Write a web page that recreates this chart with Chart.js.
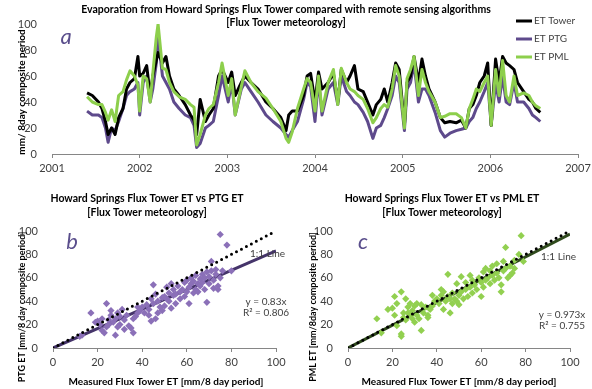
<!DOCTYPE html>
<html>
<head>
<meta charset="utf-8">
<script src="https://cdn.jsdelivr.net/npm/chart.js"></script>
<style>
  body { margin: 0; background: #fff; width: 592px; height: 389px; position: relative; overflow: hidden; }
  canvas { position: absolute; }
</style>
</head>
<body>
<canvas id="series" width="592" height="182" style="left:0;top:0"></canvas>
<canvas id="ptg" width="296" height="209" style="left:0;top:180px"></canvas>
<canvas id="pml" width="296" height="209" style="left:296px;top:180px"></canvas>
<script>
// 8-day composites, decimal years
const years = [2001.40, 2001.46, 2001.53, 2001.57, 2001.61, 2001.64, 2001.68, 2001.72, 2001.76, 2001.81,
  2001.85, 2001.89, 2001.94, 2001.98, 2002.00, 2002.04, 2002.08, 2002.12, 2002.15, 2002.19,
  2002.21, 2002.26, 2002.30, 2002.34, 2002.39, 2002.45, 2002.52, 2002.58, 2002.62, 2002.65,
  2002.69, 2002.75, 2002.79, 2002.84, 2002.90, 2002.94, 2003.01, 2003.05, 2003.09, 2003.16,
  2003.20, 2003.27, 2003.35, 2003.44, 2003.52, 2003.61, 2003.67, 2003.70, 2003.74, 2003.80,
  2003.87, 2003.91, 2003.95, 2004.00, 2004.04, 2004.08, 2004.15, 2004.21, 2004.26, 2004.30,
  2004.36, 2004.40, 2004.45, 2004.49, 2004.55, 2004.60, 2004.66, 2004.70, 2004.75, 2004.79,
  2004.83, 2004.88, 2004.92, 2004.96, 2005.02, 2005.05, 2005.09, 2005.13, 2005.18, 2005.22,
  2005.26, 2005.30, 2005.37, 2005.43, 2005.48, 2005.54, 2005.61, 2005.67, 2005.72, 2005.76,
  2005.80, 2005.84, 2005.88, 2005.93, 2005.97, 2006.01, 2006.06, 2006.10, 2006.14, 2006.18,
  2006.22, 2006.27, 2006.31, 2006.38, 2006.44, 2006.48, 2006.52, 2006.57];
const etTower = [47, 45, 40, 35, 25, 15, 20, 15, 28, 35,
  50, 55, 58, 75, 60, 62, 68, 45, 60, 72,
  78, 70, 75, 60, 50, 45, 38, 30, 26, 15,
  42, 25, 30, 35, 60, 65, 55, 63, 45, 55,
  60, 55, 50, 40, 35, 28, 18, 30, 33, 33,
  45, 60, 62, 40, 63, 50, 55, 62, 40, 65,
  55, 60, 68, 50, 48, 40, 30, 38, 42, 50,
  40, 55, 70, 65, 22, 55, 60, 75, 55, 73,
  60, 50, 40, 28, 24, 25, 24, 26, 20, 35,
  38, 45, 55, 60, 70, 22, 73, 55, 75, 70,
  68, 65, 55, 48, 42, 40, 35, 32];
const etPTG = [33, 30, 30, 28, 20, 9, 20, 18, 25, 35,
  45, 48, 50, 55, 30, 55, 60, 40, 50, 70,
  90, 60, 55, 50, 40, 35, 30, 28, 22, 5,
  8, 20, 22, 25, 45, 60, 40, 55, 30, 50,
  55, 48, 40, 30, 25, 20, 15, 13, 18, 25,
  42, 55, 52, 25, 58, 30, 50, 55, 38, 60,
  48, 45, 40, 38, 32, 25, 12, 20, 22, 28,
  35, 45, 60, 55, 18, 50, 55, 70, 40, 50,
  50, 45, 32, 18, 13, 16, 18, 19, 20, 25,
  28, 35, 40, 48, 55, 22, 55, 40, 60, 40,
  38, 55, 40, 40, 35, 30, 28, 25];
const etPML = [44, 40, 38, 38, 32, 26, 34, 25, 45, 48,
  57, 64, 60, 53, 33, 60, 58, 40, 62, 90,
  100, 66, 65, 55, 48, 44, 42, 38, 36, 7,
  15, 30, 35, 38, 55, 70, 45, 58, 30, 52,
  64, 55, 48, 43, 35, 25, 12, 9, 17, 35,
  50, 58, 55, 33, 60, 33, 55, 65, 38, 66,
  55, 50, 48, 45, 42, 35, 24, 28, 35, 38,
  36, 50, 68, 60, 20, 58, 65, 75, 45, 65,
  55, 48, 40, 28, 29, 31, 31, 28, 20, 35,
  42, 50, 48, 55, 60, 22, 65, 45, 72, 45,
  40, 60, 45, 47, 45, 40, 37, 35];
const yearTicks = [2001, 2002, 2003, 2004, 2005, 2006, 2007];

// scatter b: measured tower ET vs PTG ET
const towerB = [12, 13, 17, 19, 20, 21, 22, 22, 23, 24, 24, 25, 25, 26, 26, 27, 28, 28, 29, 29,
  30, 30, 31, 32, 32, 33, 34, 35, 36, 36, 37, 38, 38, 39, 40, 41, 42, 43, 43, 44,
  44, 45, 45, 46, 46, 47, 47, 48, 49, 49, 50, 50, 51, 51, 52, 52, 53, 53, 54, 54,
  55, 55, 56, 57, 57, 58, 59, 59, 60, 60, 61, 61, 62, 62, 63, 63, 64, 64, 65, 65,
  66, 66, 67, 67, 68, 68, 69, 69, 70, 70, 71, 71, 72, 72, 73, 73, 74, 74, 75, 75, 76, 78, 80];
const ptgB = [10, 11, 30, 22, 23, 20, 25, 15, 13, 38, 18, 20, 24, 28, 32, 22, 11, 25, 18, 30,
  27, 20, 33, 16, 24, 28, 19, 17, 13, 25, 27, 30, 35, 32, 35, 30, 37, 28, 33, 23,
  42, 54, 38, 25, 46, 30, 40, 35, 43, 32, 36, 44, 42, 52, 40, 47, 34, 55, 45, 50,
  38, 46, 53, 48, 42, 50, 44, 56, 58, 48, 38, 52, 55, 60, 47, 57, 62, 50, 55, 48,
  59, 53, 63, 56, 50, 60, 39, 65, 55, 61, 74, 66, 58, 51, 63, 67, 53, 50, 97, 60, 66, 88, 66];
const ptgSlope = 0.83;

// scatter c: measured tower ET vs PML ET
const towerC = [13, 15, 18, 20, 21, 21, 22, 22, 24, 24, 24, 25, 25, 26, 26, 27, 27, 28, 28, 29,
  29, 30, 30, 31, 31, 32, 33, 33, 34, 35, 36, 36, 37, 38, 38, 39, 40, 41, 42, 42,
  43, 43, 44, 45, 45, 46, 46, 47, 47, 48, 49, 49, 50, 50, 51, 51, 52, 53, 53, 54,
  55, 55, 56, 56, 57, 58, 59, 60, 60, 61, 61, 62, 62, 63, 64, 64, 65, 65, 66, 67,
  67, 68, 69, 69, 70, 70, 71, 71, 72, 73, 73, 74, 75, 75, 77, 78, 79];
const pmlC = [25, 13, 33, 34, 44, 28, 38, 19, 10, 48, 12, 30, 26, 42, 24, 35, 30, 28, 38, 32,
  25, 36, 22, 38, 28, 25, 37, 15, 30, 35, 28, 26, 33, 45, 36, 40, 42, 38, 45, 50,
  33, 48, 40, 63, 44, 30, 42, 38, 47, 42, 40, 55, 45, 37, 61, 48, 42, 56, 50, 44,
  62, 52, 58, 47, 54, 50, 60, 56, 44, 65, 52, 68, 58, 60, 55, 66, 62, 70, 58, 72,
  64, 60, 48, 54, 66, 74, 86, 68, 60, 62, 70, 64, 75, 68, 80, 96, 74];
const pmlSlope = 0.973;

const FONT = 'Lato, "Open Sans", sans-serif';
const AXIS = '#868686';
const TXT = '#404040';
const LETTER = '#5a4e8c';

// draws titles, legend and annotations at fixed spots
function textPlugin(items) {
  return {
    id: 'texts',
    afterDraw(chart) {
      const ctx = chart.ctx;
      items.forEach(it => {
        ctx.save();
        ctx.font = it.font;
        ctx.fillStyle = it.color || TXT;
        ctx.textAlign = it.align || 'center';
        ctx.textBaseline = 'middle';
        ctx.translate(it.x, it.y);
        if (it.rot) ctx.rotate(it.rot);
        if (it.line) {
          ctx.strokeStyle = it.line;
          ctx.lineWidth = 3;
          ctx.beginPath();
          ctx.moveTo(-18, 0);
          ctx.lineTo(-2, 0);
          ctx.stroke();
        }
        ctx.fillText(it.text, 0, 0);
        ctx.restore();
      });
    }
  };
}

function scales(xMin, xMax, xStep, yWidth, xHeight, fmt) {
  return {
    x: {
      type: 'linear', min: xMin, max: xMax,
      afterBuildTicks: s => { s.ticks = s.ticks.filter(t => t.value % xStep === 0); },
      ticks: { stepSize: xStep, color: TXT, font: { family: FONT, size: 11 }, padding: 4, maxRotation: 0, callback: fmt },
      grid: { display: true, drawOnChartArea: false, drawTicks: true, tickLength: 4, color: AXIS },
      border: { color: AXIS },
      afterFit: s => { s.height = xHeight; s.paddingLeft = 0; s.paddingRight = 0; }
    },
    y: {
      min: 0, max: 100,
      ticks: { stepSize: 20, color: TXT, font: { family: FONT, size: 11 }, padding: 7 },
      grid: { display: false },
      border: { display: false },
      afterFit: s => { s.width = yWidth; s.paddingTop = 0; s.paddingBottom = 0; }
    }
  };
}

const base = {
  animation: false, responsive: false, devicePixelRatio: 1,
  plugins: { legend: { display: false }, tooltip: { enabled: false } }
};

const pts = (xs, ys) => xs.map((x, i) => ({ x: x, y: ys[i] }));

// panel a: time series
new Chart(document.getElementById('series'), {
  type: 'line',
  data: {
    datasets: [
      { label: 'ET PML', data: pts(years, etPML), borderColor: '#8dcf4c', order: 0 },
      { label: 'ET Tower', data: pts(years, etTower), borderColor: '#000000', order: 1 },
      { label: 'ET PTG', data: pts(years, etPTG), borderColor: '#5e4a8c', order: 2 }
    ]
  },
  options: Object.assign({}, base, {
    elements: { line: { borderWidth: 3, tension: 0, borderJoinStyle: 'round' }, point: { radius: 0 } },
    layout: { padding: { left: 0, right: 14, top: 24, bottom: 0 } },
    scales: scales(yearTicks[0], yearTicks[yearTicks.length - 1], 1, 52, 28, v => String(v))
  }),
  plugins: [textPlugin([
    { text: 'Evaporation from Howard Springs Flux Tower compared with remote sensing algorithms', x: 286, y: 10, font: 'bold 10.5px ' + FONT, color: '#000' },
    { text: '[Flux Tower meteorology]', x: 286, y: 23, font: 'bold 10.5px ' + FONT, color: '#000' },
    { text: 'mm/ 8day composite period', x: 22, y: 92, rot: -Math.PI / 2, font: 'bold 10px ' + FONT, color: '#000' },
    { text: 'a', x: 66, y: 37, font: 'italic 22px ' + FONT, color: LETTER },
    { text: 'ET Tower', x: 534, y: 21, align: 'left', line: '#000000', font: '10px ' + FONT },
    { text: 'ET PTG', x: 534, y: 39, align: 'left', line: '#5e4a8c', font: '10px ' + FONT },
    { text: 'ET PML', x: 534, y: 57, align: 'left', line: '#8dcf4c', font: '10px ' + FONT }
  ])]
});

function scatterPanel(id, xs, ys, slope, markColor, trendColor, texts) {
  new Chart(document.getElementById(id), {
    type: 'scatter',
    data: {
      datasets: [
        { data: [{ x: 0, y: 0 }, { x: 100, y: 100 * slope }], type: 'line', borderColor: trendColor, borderWidth: 3, pointRadius: 0, order: 2 },
        { data: pts(xs, ys), pointStyle: 'rectRot', pointRadius: 3.6, backgroundColor: markColor, borderColor: markColor, borderWidth: 0, order: 1 },
        { data: [{ x: 0, y: 0 }, { x: 100, y: 100 }], type: 'line', borderColor: '#000', borderWidth: 3, borderDash: [0, 5.6], borderCapStyle: 'round', pointRadius: 0, order: 0 }
      ]
    },
    options: Object.assign({}, base, {
      layout: { padding: { left: 0, right: id === 'ptg' ? 20 : 22, top: 51, bottom: 0 } },
      scales: scales(0, 100, 20, id === 'ptg' ? 53 : 52, 41)
    }),
    plugins: [textPlugin(texts)]
  });
}

scatterPanel('ptg', towerB, ptgB, ptgSlope, '#8b70b8', '#45346a', [
  { text: 'Howard Springs Flux Tower ET vs PTG ET', x: 147, y: 19, font: 'bold 10.5px ' + FONT, color: '#000' },
  { text: '[Flux Tower meteorology]', x: 147, y: 33, font: 'bold 10.5px ' + FONT, color: '#000' },
  { text: 'PTG ET [mm/8 day composite period]', x: 22, y: 127, rot: -Math.PI / 2, font: 'bold 9px ' + FONT, color: '#000' },
  { text: 'Measured Flux Tower ET [mm/8 day period]', x: 166, y: 202, font: 'bold 10px ' + FONT, color: '#000' },
  { text: 'b', x: 72, y: 62, font: 'italic 22px ' + FONT, color: LETTER },
  { text: '1:1 Line', x: 250, y: 74, align: 'left', font: '10px ' + FONT },
  { text: 'y = 0.83x', x: 266, y: 122, font: '10px ' + FONT },
  { text: 'R\u00b2 = 0.806', x: 266, y: 133, font: '10px ' + FONT }
]);

scatterPanel('pml', towerC, pmlC, pmlSlope, '#92d050', '#2f4a1c', [
  { text: 'Howard Springs Flux Tower ET vs PML ET', x: 146, y: 19, font: 'bold 10.5px ' + FONT, color: '#000' },
  { text: '[Flux Tower meteorology]', x: 146, y: 33, font: 'bold 10.5px ' + FONT, color: '#000' },
  { text: 'PML ET [mm/8day composite period]', x: 17, y: 127, rot: -Math.PI / 2, font: 'bold 9px ' + FONT, color: '#000' },
  { text: 'Measured Flux Tower ET [mm/8 day period]', x: 163, y: 202, font: 'bold 10px ' + FONT, color: '#000' },
  { text: 'c', x: 67, y: 62, font: 'italic 22px ' + FONT, color: LETTER },
  { text: '1:1 Line', x: 245, y: 77, align: 'left', font: '10px ' + FONT },
  { text: 'y = 0.973x', x: 266, y: 135, font: '10px ' + FONT },
  { text: 'R\u00b2 = 0.755', x: 266, y: 146, font: '10px ' + FONT }
]);
</script>
</body>
</html>
